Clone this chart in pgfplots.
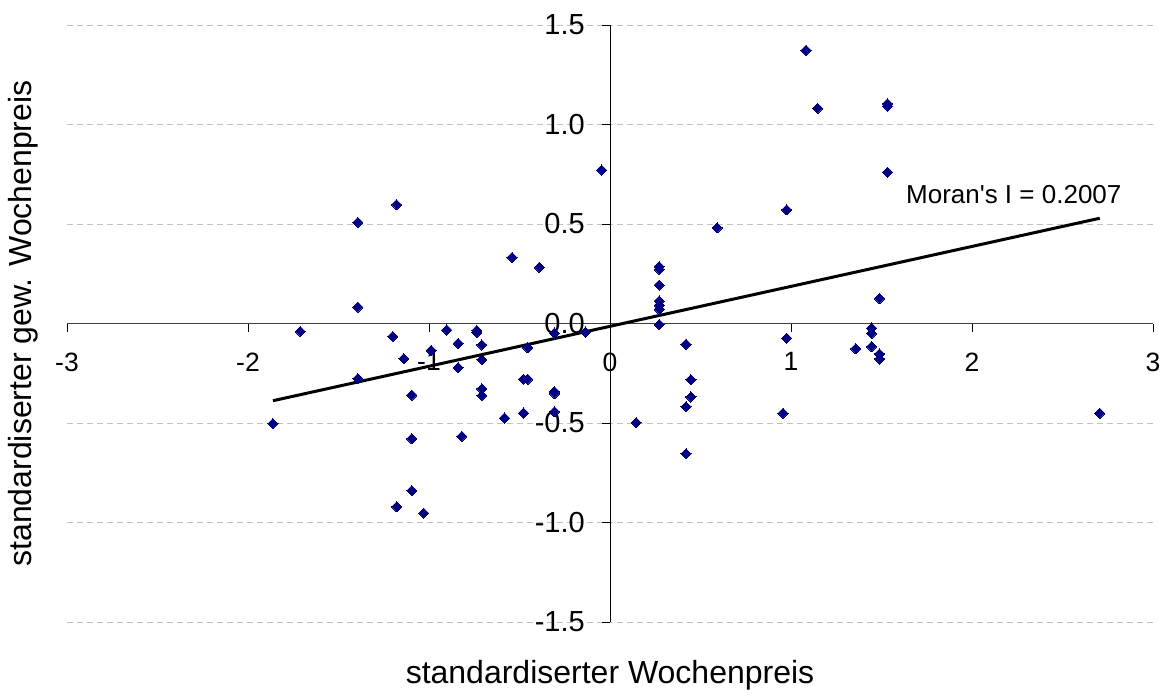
\documentclass[border=0pt]{standalone}
\usepackage{pgfplots}
\pgfplotsset{compat=1.18}
\usepackage{fontspec}
\setmainfont{Liberation Sans}
\definecolor{navy}{RGB}{0,0,128}
\definecolor{gridgray}{RGB}{192,192,192}
\begin{document}
\begin{tikzpicture}
\useasboundingbox (0,0) rectangle (1168pt,697pt);
\begin{axis}[
  at={(67pt,75pt)}, anchor=south west,
  scale only axis, width=1086pt, height=597pt,
  xmin=-3, xmax=3, ymin=-1.5, ymax=1.5,
  axis lines=middle,
  axis line style={-},
  x axis line style={black!75, line width=1pt},
  y axis line style={black, line width=1pt},
  hide obscured x ticks=false, hide obscured y ticks=false,
  xtick={-3,-2,-1,0,1,2,3},
  ytick={-1.5,-1,-0.5,0,0.5,1,1.5},
  tick align=outside,
  major tick length=8pt,
  tick style={black, line width=0.8pt},
  ymajorgrids, grid style={gridgray, line width=0.8pt, dash pattern=on 6pt off 4pt},
  /pgf/number format/assume math mode=true,
  yticklabel style={font=\fontsize{29}{34}\selectfont, anchor=east, inner sep=0pt, xshift=-17pt,
     /pgf/number format/.cd, fixed, fixed zerofill, precision=1},
  xticklabel style={font=\fontsize{26.5}{32}\selectfont, anchor=north, inner sep=0pt, yshift=-21pt},
  xlabel={standardiserter Wochenpreis},
  ylabel={standardiserter gew. Wochenpreis},
  label style={font=\fontsize{32}{38}\selectfont},
  xlabel style={at={(axis description cs:0.5,-0.1022)}, anchor=base},
  ylabel style={at={(axis description cs:-0.0331,0.5)}, anchor=base, rotate=90},
  clip=false,
]
\addplot[only marks, mark=square*, mark size=3.6pt, mark options={rotate=45, navy, fill=navy, line width=0pt}] coordinates {
(-0.046,0.771) (1.083,1.373) (1.147,1.081) (1.533,1.104) (1.533,1.092)
(1.533,0.760) (0.976,0.571) (0.592,0.481) (0.272,0.286) (0.272,0.272)
(0.272,0.193) (0.272,0.113) (0.272,0.092) (0.272,0.072) (0.272,-0.005)
(1.489,0.126) (0.420,-0.104) (0.976,-0.074) (1.445,-0.023) (1.445,-0.050)
(1.358,-0.127) (1.445,-0.116) (1.489,-0.153) (1.489,-0.178) (0.447,-0.282)
(0.447,-0.369) (0.420,-0.418) (0.145,-0.498) (0.956,-0.451) (2.706,-0.451)
(0.420,-0.654)
(-1.862,-0.503) (-1.711,-0.040) (-1.393,0.508) (-1.179,0.597) (-1.393,0.082)
(-1.393,-0.277) (-0.541,0.332) (-0.390,0.282) (-1.200,-0.065) (-1.139,-0.177)
(-0.988,-0.135) (-0.902,-0.033) (-0.839,-0.100) (-0.839,-0.222) (-0.736,-0.035)
(-0.736,-0.045) (-0.708,-0.108) (-0.708,-0.182) (-0.454,-0.122) (-0.307,-0.048)
(-0.136,-0.043) (-0.478,-0.280) (-0.454,-0.280) (-1.095,-0.360) (-1.095,-0.579)
(-1.095,-0.840) (-1.178,-0.921) (-1.029,-0.953) (-0.708,-0.328) (-0.708,-0.362)
(-0.819,-0.567) (-0.583,-0.475) (-0.478,-0.450) (-0.307,-0.342) (-0.307,-0.352)
(-0.307,-0.443)
};
\addplot[black, line width=3pt, no marks] coordinates {(-1.862,-0.388) (2.706,0.529)};
\node[anchor=base west, inner sep=0pt, font=\fontsize{26}{31}\selectfont] at (axis cs:1.635,0.604) {Moran\textquotesingle s I = 0.2007};
\end{axis}
\end{tikzpicture}
\end{document}
